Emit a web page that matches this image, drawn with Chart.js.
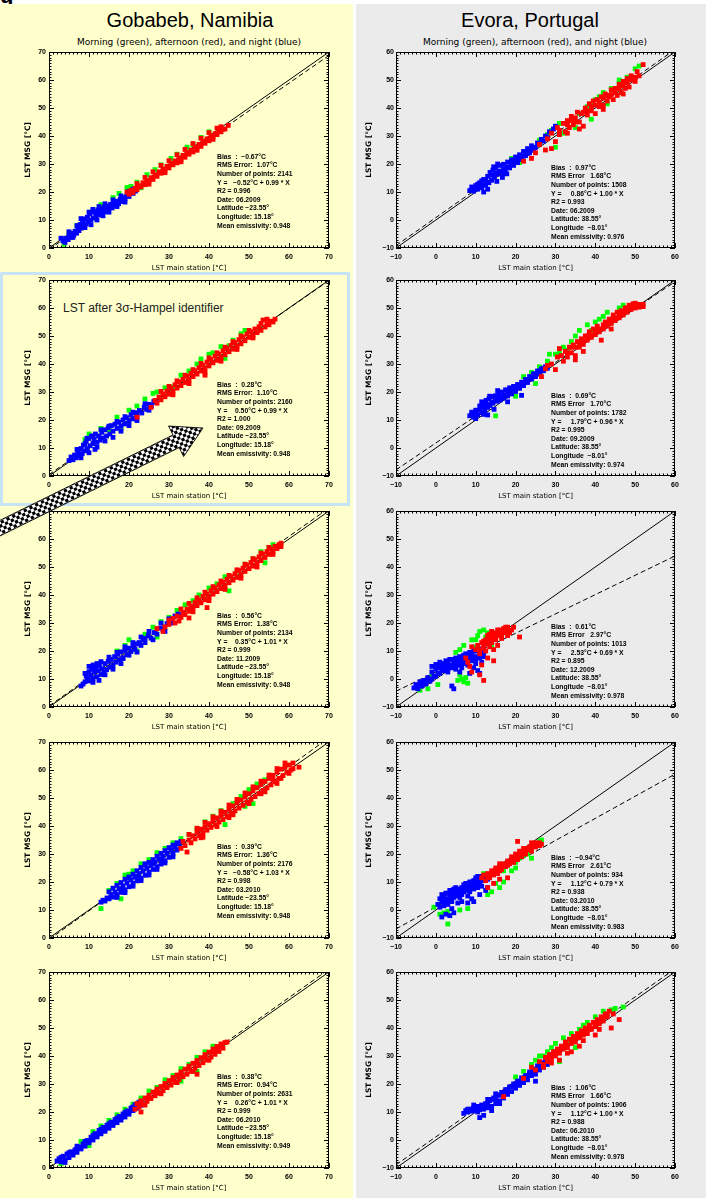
<!DOCTYPE html>
<html>
<head>
<meta charset="utf-8">
<script src="https://cdn.jsdelivr.net/npm/chart.js@4.4.1/dist/chart.umd.min.js"></script>
<style>
html, body { margin: 0; padding: 0; width: 706px; height: 1198px; overflow: hidden; background: #fff;
  font-family: "Liberation Sans", Arial, sans-serif; }
#page { position: relative; width: 706px; height: 1198px; }
.col { position: absolute; top: 4px; bottom: 0; }
#colL { left: 0; width: 353px; background: #ffffcc; }
#colR { left: 356px; width: 350px; background: #ebebeb; }
.site { position: absolute; top: 9px; width: 300px; text-align: center; font-size: 20px; color: #000; }
.sub { position: absolute; top: 37px; width: 300px; text-align: center; font-size: 9px; color: #000;
  font-family: "DejaVu Sans", sans-serif; }
#frame { position: absolute; left: 0; top: 272px; width: 344px; height: 228px; border: 3px solid #c6e4f6; }
#hampel { position: absolute; left: 63px; top: 301px; font-size: 12px; color: #222; white-space: nowrap; }
#frag { position: absolute; left: 0; top: -17px; font-size: 22px; font-weight: bold; color: #000; }
canvas.panel { position: absolute; }
#arrow { position: absolute; left: 0; top: 0; }
</style>
</head>
<body>
<div id="page">
  <div id="frag">g</div>
  <div class="col" id="colL"></div>
  <div class="col" id="colR"></div>
  <div id="frame"></div>
  <div class="site" style="left:40px">Gobabeb, Namibia</div>
  <div class="site" style="left:380px">Evora, Portugal</div>
  <div class="sub" style="left:39px">Morning (green), afternoon (red), and night (blue)</div>
  <div class="sub" style="left:385px">Morning (green), afternoon (red), and night (blue)</div>
  <div id="hampel">LST after 3σ-Hampel identifier</div>
  <canvas id="arrow" width="706" height="1198"></canvas>
</div>
<script>
// ---- axis ranges ----
const gobRange = [0, 70];
const evoRange = [-10, 60];

// ---- Gobabeb statistics (06.2009, 09.2009, 11.2009, 03.2010, 06.2010) ----
const gobDates = ['06.2009', '09.2009', '11.2009', '03.2010', '06.2010'];
const gobBias = ['−0.67', '0.28', '0.56', '0.39', '0.38'];
const gobRms = ['1.07', '1.10', '1.38', '1.36', '0.94'];
const gobCount = [2141, 2160, 2134, 2176, 2631];
const gobIntercept = [-0.52, 0.50, 0.35, -0.58, 0.26];
const gobSlope = [0.99, 0.99, 1.01, 1.03, 1.01];
const gobR2 = ['0.996', '1.000', '0.999', '0.998', '0.999'];
const gobEmis = ['0.948', '0.948', '0.948', '0.948', '0.949'];

// ---- Evora statistics (06.2009, 09.2009, 12.2009, 03.2010, 06.2010) ----
const evoDates = ['06.2009', '09.2009', '12.2009', '03.2010', '06.2010'];
const evoBias = ['0.97', '0.69', '0.61', '−0.94', '1.06'];
const evoRms = ['1.68', '1.70', '2.97', '2.61', '1.66'];
const evoCount = [1508, 1782, 1013, 934, 1906];
const evoIntercept = [0.86, 1.79, 2.53, 1.12, 1.12];
const evoSlope = [1.00, 0.96, 0.69, 0.79, 1.00];
const evoR2 = ['0.993', '0.995', '0.895', '0.938', '0.988'];
const evoEmis = ['0.976', '0.974', '0.978', '0.983', '0.978'];

// ---- scatter samples [station LST, MSG LST] ----
const gob0609Blue = [[3.5,2.5],[4,2],[4.2,3.5],[4.8,3],[5,4.5],[5.5,3.8],[5.8,5.2],[6.2,4.6],[6.5,6],[6.9,5.3],[7.2,7],[7.5,6.2],[7.8,8.4],[8.1,7.1],[8.4,9.5],[8.7,8],[9,10.4],[9.3,8.6],[9.6,11],[9.9,9.3],[10.2,12.1],[10.5,10],[10.8,12.8],[11.1,10.7],[11.4,13],[11.7,11.4],[12,12.5],[12.3,13.6],[12.6,11.8],[12.9,14],[13.2,12.4],[13.5,13.4],[13.8,14.6],[14.1,12.9],[14.4,15],[14.7,13.5],[15,14.4],[15.4,15.6],[15.8,14.3],[16.2,16],[16.6,15.2],[17,16.7],[17.4,15.8],[17.8,17.3],[18.2,16.6],[18.6,18],[19,17.5],[19.5,18.9],[20,18.4],[20.5,19.8],[21,19.5],[21.6,20.3],
  [8,10.5],[9,7.3],[10,12.8],[10.5,8.3],[11,13.8],[12,10],[12.5,14.8],[13.5,11.5],[14,15.8],[15,12.8],[16,17.2],[17,14.8],[18,18.6],[19,16.4],[20,20.2],[5,5.8],[6,3.8],[7,8],[3,3.5],[21,21]];
const gob0609Red = [[19.5,20],[20,19.2],[20.5,20.6],[21,19.8],[21.5,21.3],[22,20.8],[22.5,22.2],[23,21.8],[23.5,23.3],[24,22.6],[24.5,24],[25,23.9],[25.5,25.1],[26,24.5],[26.5,26],[27,25.6],[27.5,27.2],[28,26.7],[28.5,28.1],[29,27.6],[29.5,29.2],[30,28.6],[30.5,30.2],[31,29.7],[31.5,31.1],[32,30.4],[32.5,32],[33,31.6],[33.5,33.1],[34,32.4],[34.5,34],[35,33.5],[35.5,35],[36,34.3],[36.5,36],[37,35.6],[37.5,37],[38,36.3],[38.5,38],[39,37.4],[39.5,39],[40,38.3],[40.5,40],[41,39.6],[41.5,40.8],[42,40.5],[42.5,41.7],[43,41.5],[43.5,42.4],[44,42.5],[44.8,43.8],
  [22,23],[24,25.2],[26,27.2],[28,29.5],[30,31.2],[32,33.3],[34,35.2],[36,37.3],[38,39.2],[40,41.2],[42,42.8],[25,22.8],[29,26.9],[33,30.8],[37,34.9],[41,38.8],[43,43.3]];
const gob0609Green = [[3.8,1.3],[5,5.5],[7,8],[8.5,9],[11,13.6],[13,15.5],[16,18],[17.5,19.5],[19.5,21.6],[20.5,22],[22,23.5],[24.5,26.2],[26.5,28],[28,29.7],[30.5,32],[32,33.5],[34.5,36],[36,37],[38,39.5],[40,41.5],[23,21.5]];

const gob0909Blue = [[5,5.5],[5.5,6.8],[6,5.8],[6.4,7.5],[6.8,6.5],[7.2,8.6],[7.6,7.3],[8,9.8],[8.3,8],[8.6,11],[9,9],[9.3,12.3],[9.6,9.8],[10,13.4],[10.3,10.8],[10.6,14.2],[11,11.6],[11.3,13],[11.6,15],[12,12],[12.4,14.3],[12.8,12.8],[13.2,15.6],[13.6,13.6],[14,16.5],[14.4,14.3],[14.8,17.2],[15.2,15],[15.6,18],[16,16],[16.5,18.5],[17,17],[17.5,19.2],[18,17.8],[18.5,20],[19,18.6],[19.5,20.8],[20,19.5],[20.5,21.9],[21,20.4],[21.5,22.6],[22,21.5],[22.6,23.4],[23.2,22.5],[23.8,24.6],[24.4,23.8],[25,25.6],[25.6,25],[26.2,26.6],[26.8,26.3],
  [7,9.5],[8,6.5],[9,11.5],[10,8.3],[11,14.3],[12,10.3],[13,16.5],[14,12.5],[15,17.8],[16,13.8],[17,19.5],[18,16],[19,21.2],[20,18],[21,22.8],[22,19.8],[24,25.8],[25,23.5],[9.5,13.5],[11.5,9.5]];
const gob0909Red = [[25.5,24.5],[26.5,27],[27,26],[27.5,28.2],[28,27.2],[28.5,29.3],[29,28.3],[29.5,30.3],[30,29.2],[30.5,31.4],[31,30.3],[31.5,32.6],[32,31.4],[32.5,33.6],[33,32.3],[33.5,34.5],[34,33.4],[34.5,35.6],[35,34.3],[35.5,36.6],[36,35.5],[36.5,37.6],[37,36.4],[37.5,38.7],[38,37.5],[38.5,39.6],[39,38.5],[39.5,40.7],[40,39.3],[40.5,41.6],[41,40.4],[41.5,42.8],[42,41.3],[42.5,43.5],[43,42.3],[43.5,44.7],[44,43.3],[44.5,45.5],[45,44.4],[45.5,46.6],[46,45.3],[46.5,47.6],[47,46.3],[47.5,48.7],[48,47.2],[48.5,49.6],[49,48.3],[49.5,50.7],[50,49.5],[50.5,51.5],[51,50.3],[51.5,52.5],[52,51.2],[52.5,53.3],[53,52],[53.5,55.7],[54,53.2],[54.5,54.4],[55,54],[55.5,55.3],[56,55],[56.5,56],[22,21],[39,36],
  [28,30.2],[30,32],[32,34],[34,36],[36,38],[38,40.2],[40,42.2],[42,44],[44,46],[46,48],[48,50],[50,52],[31,29],[35,33],[39,37],[43,41],[47,45.2],[51,49.3],[54.5,56],[53,54.5]];
const gob0909Green = [[9,13],[10,15],[13,17],[15,16.5],[17,21],[18,16.8],[20,23.5],[22,25],[24,27.5],[26,29.5],[27,30],[29,31.5],[31,31.8],[33,36],[35,37.5],[37,40],[38,41.8],[40,43.5],[41,44],[43,46.2],[44,42],[46,48.5],[48,50.8],[45,46.5],[49,52]];

const gob1109Blue = [[8,7.5],[8.5,8.2],[9,9],[9.3,11],[9.6,10],[10,12.6],[10,9.3],[10.4,11.3],[10.7,13.5],[11,10.2],[11.3,12.4],[11.6,14],[12,10.8],[12.3,13],[12.6,14.8],[13,11.6],[13.3,13.7],[13.7,12.3],[14,15.5],[14.4,13.3],[14.8,16.3],[15.2,14.2],[15.6,17],[16,15],[16.4,18],[16.8,16],[17.2,18.8],[17.6,16.8],[18,19.7],[18.5,17.6],[19,20.3],[19.5,18.7],[20,21],[20.5,19.8],[21,21.9],[21.5,20.6],[22,19.6],[22.5,23],[23,22],[23.5,24],[24,23],[24.8,25.5],[25.5,24.6],[26.3,26.6],[27,26],[27.8,28.2],[28.5,27.6],[29.5,29.8],[30.5,30],[31.5,32.5],[32.3,33.2],[18.5,17.3],[24,24.5],
  [9,12],[10,14.5],[11,8.8],[11,15],[12,15.5],[12.5,9.5],[13,16.2],[14,11.5],[15,17.8],[16,13.5],[17,19.5],[18,15.5],[19,21.5],[20,18.5],[21,23],[22,22.5],[23,25],[25,27],[28,30],[30,31.5],[29,27],[26,24]];
const gob1109Red = [[27,28],[28.5,27],[29,28.6],[30,29.5],[31,31.6],[31.5,30],[32,32.5],[33,32],[33.5,33.8],[34,33],[34.5,35],[35,34.2],[35.5,36],[36,35.3],[36.5,37.3],[37,36.2],[37.5,38.2],[38,37.2],[38.5,39.5],[39,38.3],[39.5,40.4],[40,39.2],[40.5,41.5],[41,40.3],[41.5,42.5],[42,41.2],[42.5,43.6],[43,42.3],[43.5,44.5],[44,43.3],[44.5,45.6],[45,44.4],[45.5,46.6],[46,45.3],[46.5,47.6],[47,46.3],[47.5,48.7],[48,47.3],[48.5,49.6],[49,48.4],[49.5,50.7],[50,49.4],[50.5,51.6],[51,50.3],[51.5,52.6],[52,51.3],[52.5,53.6],[53,52.3],[53.5,54.6],[54,53.4],[54.5,55.5],[55,54.5],[55.5,56.4],[56,55.5],[56.5,57.4],[57,56.6],[57.5,58],[58,57.3],[32.5,30.7],[35,31.8],[39.5,35.5],
  [33,35],[35,37],[37,39],[39,41],[41,43],[43,45],[45,47],[47,49],[49,51],[51,53],[53,55],[55,57],[36,34],[40,38],[44,42],[48,46],[52,50],[56,54.5],[30,31],[58,58.5]];
const gob1109Green = [[17,20],[19,22],[20,24],[22,20],[24,26],[26,28.5],[27,25],[28,30.5],[30,32],[32,34.5],[34,36.5],[36,38],[37.5,40],[40,42.5],[42,44],[44,46.5],[45,41.5],[47,48.5],[49,51],[51,53],[53,55.5],[54,51.5],[55,57],[56,58],[12,15.5]];

const gob0310Blue = [[13,12.8],[13.5,13.5],[14,13.2],[14.5,14.3],[15,14],[15.5,15.5],[16,14.6],[16.5,16.4],[17,15.5],[17.5,17.6],[18,16.3],[18.5,18.6],[19,17.2],[19.5,19.7],[20,18.3],[20.5,20.8],[21,19.5],[21.5,21.8],[22,20.4],[22.5,23],[23,21.3],[23.5,24],[24,22.4],[24.5,25],[25,23.5],[25.5,26],[26,24.5],[26.5,27.2],[27,25.5],[27.5,28.3],[28,26.4],[28.5,29.2],[29,27.6],[29.5,30.3],[30,28.8],[30.5,31.5],[31,30.2],[31.5,32.5],[32,31.4],[32.5,33.6],[33,34.5],[24,26.5],[26,28],[18,17.5],[20,21.5],[22,22],[28,27.5],
  [15,16.5],[16,17.8],[17,18.8],[18,19.8],[19,21],[20,21.8],[21,22.8],[22,24],[23,25.2],[24,26],[25,27],[26,26.5],[27,29.2],[28,30.2],[29,31.2],[30,32.3],[31,33.2],[32,34],[17,14.5],[19,16.2],[21,18.5],[23,20.5],[25,22.5],[27,24.5],[29,26.8],[31,29]];
const gob0310Red = [[33,32],[33.5,34.5],[34,33],[34.5,30.7],[35,35],[35.5,34],[36,36.5],[36.5,35.4],[37,37.8],[37.5,36.6],[38,38.9],[38.5,37.6],[39,39.7],[39.5,38.5],[40,40.8],[40.5,39.5],[41,41.7],[41.5,40.4],[42,42.9],[42.5,41.4],[43,43.8],[43.5,42.3],[44,44.9],[44.5,43.4],[45,46],[45.5,44.5],[46,47.2],[46.5,45.4],[47,48.2],[47.5,46.4],[48,49.3],[48.5,47.4],[49,50.4],[49.5,48.5],[50,51.5],[50.5,49.5],[51,52.6],[51.5,50.5],[52,53.7],[52.5,51.6],[53,54.8],[53.5,52.7],[54,55.9],[54.5,53.6],[55,57],[55.5,54.7],[56,58.1],[56.5,55.8],[57,59.2],[57.5,57],[58,60.3],[58.5,58],[59,61],[59.5,59.2],[60,61.8],[60.5,60],[61,62.5],[62.5,61],[45,43],[53,51.5],[38.5,36],[57,55.2],
  [35,37],[37,39.2],[39,41.3],[41,43.3],[43,45.3],[45,47.5],[47,49.5],[49,51.8],[51,54],[53,56],[55,58.2],[57,60.5],[59,62.5],[38,35.8],[42,39.8],[46,44],[50,48],[54,52.2],[58,57],[60,58.8],[56,56.5],[61,60.5]];
const gob0310Green = [[13,10.5],[15,17],[17,19.5],[19,22.5],[21,24],[23,26.5],[25,28],[27,30.5],[29,32],[31,34],[33,35.5],[35,37],[37,39],[39,41.5],[41,43.5],[43,45.5],[44,40.5],[46,48],[48,50.5],[50,53],[51,48],[52,55],[54,56.5],[49,47],[20,22.8],[18,14]];

const gob0610Blue = [[2,2.5],[2.5,3.3],[3,2.2],[3.5,4.2],[4,3],[4.5,5],[5,3.7],[5.5,5.8],[6,4.6],[6.5,6.5],[7,5.6],[7.5,7.5],[8,6.8],[8.5,8.6],[9,7.8],[9.5,9.8],[10,9],[10.5,11],[11,10],[11.5,12.3],[12,11.1],[12.5,13.4],[13,12.2],[13.5,14.5],[14,13.1],[14.5,15.3],[15,14.2],[15.5,16.4],[16,15.2],[16.5,17.3],[17,16.2],[17.5,18.4],[18,17.1],[18.5,19.3],[19,18.2],[19.5,20.4],[20,19.2],[20.5,21.4],[21,20.5],[21.5,22.6],[22,21.4],[22.5,23.5],[23,22.4],[4,2],[7,7],
  [3,3.8],[5,5.5],[7,7.8],[9,9.5],[11,11.6],[13,13.8],[15,15.8],[17,17.8],[19,19.8],[21,21.8],[6,5.5],[8,7.5],[10,9.7],[12,11.8],[14,13.8],[16,16],[18,18],[20,20]];
const gob0610Red = [[21.5,21],[22,23],[22.5,21.8],[23,24],[23.5,22.6],[24,25],[24.5,23.8],[25,26],[25.5,24.8],[26,27.1],[26.5,25.8],[27,28.2],[27.5,26.7],[28,29.1],[28.5,27.6],[29,30.2],[29.5,28.7],[30,31.2],[30.5,29.6],[31,32.3],[31.5,30.6],[32,33.2],[32.5,31.6],[33,34.3],[33.5,32.6],[34,35.3],[34.5,33.5],[35,36.4],[35.5,34.5],[36,37.4],[36.5,35.6],[37,38.4],[37.5,36.6],[38,39.4],[38.5,37.6],[39,40.5],[39.5,38.6],[40,41.4],[40.5,39.6],[41,42.5],[41.5,40.6],[42,43.4],[42.5,41.6],[43,44.3],[43.5,42.8],[44,44.8],[44.5,45],[23,20],[37,33.5],
  [23,23.5],[25,25.3],[27,27.5],[29,29.5],[31,31.5],[33,33.6],[35,35.6],[37,37.6],[39,39.6],[41,41.5],[43,43.5],[24,22.5],[28,26.5],[32,30.5],[36,34.5],[40,38.5],[42,42]];
const gob0610Green = [[3,1.5],[6,5],[8,9.5],[11,13],[13,15],[15,17],[17,19],[19,21],[21,22.8],[23,25],[25,27.5],[27,28.8],[29,31.5],[31,33],[33,35.5],[35,37],[37,39.5],[39,41.5],[41,43.5],[33,31],[37,34.5],[10,8]];

const evo0609Blue = [[8.5,10.5],[9,11.8],[9.5,10.3],[10,12.3],[10.5,11],[11,13.3],[11.5,11.5],[12,14.5],[12,10],[12.5,12.4],[13,15.6],[13.3,13.3],[13.6,17],[14,14.2],[14.3,17.8],[14.7,15.3],[15,18.5],[15.3,13.8],[15.6,16.4],[16,19.5],[16.3,17.2],[16.7,15.2],[17,19.9],[17.4,17.8],[17.8,16.5],[18,20.7],[18.5,18.6],[19,21.5],[19.5,19.5],[20,22.5],[20.5,20.5],[21,23.3],[21.5,21.7],[22,24.5],[22.5,23],[23,25.5],[23.5,24],[24,26.5],[24.5,25.3],[25.5,27.5],[26.5,28.8],[27.5,30],[28.5,31.5],[29.5,32.5],[30,33.5],[13,11],[17,16.5],
  [9,10.8],[10,11.3],[11,12],[12,12.5],[13,13.5],[14,16],[15,16.8],[16,17.5],[17,18.3],[18,19],[19,20],[20,21],[21,21.7],[22,22.8],[23,23.8],[24,25],[25,26],[26,27.2],[27,28.2],[28,29.5],[10.5,12.8],[11.5,14],[12.5,14.2],[14.5,19],[15.5,20]];
const evo0609Red = [[22,21],[24,22],[25,24],[26,27],[27.5,25],[28,29],[29,31],[30,28],[30.5,33],[31,30.5],[32,34.5],[32.5,31.5],[33,35.5],[33.5,33],[34,37],[34.5,34],[35,36.5],[35.5,38.5],[36,35],[36.5,38],[37,33.5],[37.5,40],[38,37.5],[38.5,41.5],[39,39],[39.5,42.5],[40,38],[40.5,43],[41,40.5],[41.5,44],[42,41],[42.5,45],[43,42.5],[43.5,44],[44,46.5],[44.5,43],[45,47],[45.5,44.5],[46,48.5],[46.5,45.5],[47,49.5],[47.5,47],[48,50.5],[48.5,47.5],[49,51.5],[50,49.5],[50.5,53],[51,51.5],[52,55.5],[47,45],[42,39.5],[29,25.5],[33,31],[36,32.5],
  [31,32],[33,34],[35,35],[37,38.5],[39,40.5],[41,42],[43,44.5],[45,45.5],[47,48],[49,50],[34,35.5],[38,39],[42,43.5],[46,47],[48,49],[50,51],[44,44.8],[40,41]];
const evo0609Green = [[19,22],[21,20.5],[23,24.5],[26,28.5],[28,30.5],[29,32],[30,26],[31,34.5],[32,31],[34,36],[35,33],[36,38],[38,40.5],[39,36],[40,43],[41,44],[42,45.5],[43,41.5],[44,47],[46,49],[48,51],[50,54],[51,55],[46,50],[39,41.5]];

const evo0909Blue = [[8.5,11.5],[9,12.8],[9.5,11],[10,13.5],[10.5,11.8],[11,15],[11.5,12.6],[12,16],[12.3,13.4],[12.6,17],[13,14.5],[13.3,17.6],[13.6,15.2],[14,18.4],[14.3,16],[14.6,13.8],[15,18.7],[15.4,16.7],[15.8,19.4],[16.2,17.2],[16.6,20],[17,17.8],[17.5,20.8],[18,18.6],[18.5,21.5],[19,19.3],[19.5,22],[20,20.2],[20.5,22.7],[21,21.3],[21.5,23.5],[22,22.3],[22.5,24.5],[23,23.4],[23.5,25.5],[24,24.6],[24.5,26.5],[25,25.5],[25.5,27.5],[26,26.6],[26.5,28.3],[27,27.6],[27.5,29],[28,28.5],[10,10.5],[13,11.8],[18,16.5],[21.5,18.8],
  [9,12],[10,12.5],[11,13.5],[12,14.5],[13,15.5],[14,16.5],[15,17.3],[16,18],[17,19],[18,20],[19,20.5],[20,21.5],[21,22.3],[22,23.2],[23,24.3],[24,25.2],[25,26.5],[26,27.5],[27,28.5],[11.5,16.5],[13.5,18.5],[15.5,20.5],[12,12]];
const evo0909Red = [[26.5,25.5],[27.5,28.3],[28,29.5],[29,30],[30,28],[30.5,32.5],[31,35.5],[31.5,33],[32,31],[32.5,34.5],[33,32.5],[33.5,36],[34,34],[34.5,36.8],[35,33],[35.5,38],[36,36],[36.5,39],[37,37],[37.5,40],[38,38.5],[38.5,41.5],[39,39.5],[39.5,42.5],[40,40.5],[40.5,43.5],[41,41.5],[41.5,38.5],[42,42.5],[42.5,45],[43,43.5],[43.5,46],[44,44.5],[44.5,47.5],[45,45.5],[45.5,48.5],[46,46.5],[46.5,49],[47,47.5],[47.5,50],[48,48.5],[48.5,51],[49,49.5],[49.5,51.5],[50,50],[50.5,51],[51,50.3],[52,50.5],[44,42.5],[37,34.5],[35,31.5],
  [33,34],[35,36],[37,38.3],[39,40.5],[41,42.5],[43,44.5],[45,46.5],[47,48.5],[49,50.5],[51,51.3],[34,36],[36,37.5],[38,40],[40,42],[42,44],[44,46],[46,48],[48,50],[50,51.7],[52,51.3]];
const evo0909Green = [[15,11.5],[20,18.5],[22,25.5],[24,27],[25,23],[26,29],[28,31],[28.5,33.5],[30,33.5],[31,34],[32,36],[33,35],[34,38],[35,40],[36,42],[38,44],[39,42],[40,45],[42,47],[43,48.5],[44,45],[46,50],[47,51],[41,46]];

const evo1209Blue = [[-5.5,-3.2],[-5,-2],[-4.5,-3.5],[-4,-1],[-3.5,-2.5],[-3,-0.5],[-2.5,-1.8],[-2,0.5],[-1.5,-0.8],[-1,2.5],[-1,4.5],[-0.5,1],[0,3.5],[0,5.2],[0.5,2],[1,4.5],[1,6],[1.5,3],[2,5.5],[2.5,3.8],[2.5,6.5],[3,4.8],[3.5,7],[4,5],[4,-2.5],[4.5,6.5],[4.5,-3.5],[5,3.5],[5,7.5],[5.5,5],[6,8],[6,6],[6.5,4],[7,8.5],[7,6.5],[7.5,9],[8,7],[8,5],[8.5,9.5],[9,7.5],[9.5,10],[9.5,4],[10,8],[10,5.5],[10.5,10.5],[10.5,3],[11,9],[11,2],[11.5,10.8],[11.5,6],[12,8],[3,2.5],[6,2.5],[8.5,2],
  [-5,-3],[-4,-2.5],[-3,-1.5],[-2,-0.5],[-1,0],[0,1],[1,2],[2,3],[3,3.5],[4,4],[5,5],[6,5],[7,5.5],[8,6],[9,6.5],[10,7],[11,7.5],[12,9.5],[0.5,4],[1.5,5],[2,4],[3,6],[4,7],[5,6],[6,7],[7,7.5],[8,8],[9,9],[10,10],[11,10]];
const evo1209Red = [[7.5,7.5],[8,6],[8.5,4.5],[9,11.5],[9,2.5],[10,10.5],[10.5,12],[11,9],[11,1.5],[11.5,13],[11.5,5],[12,11],[12.5,14],[12.5,10],[13,12.5],[13,15.5],[13.5,11.5],[13.5,14.5],[14,13],[14,17],[14.5,15.5],[14.5,10.5],[15,14],[15,16.5],[15.5,12],[16,15.5],[16,17.5],[16.5,14.5],[17,16.5],[17,18],[17.5,17],[18,15.5],[18,17.8],[18.5,16.5],[19,17.5],[19.5,18.5],[21,15],[13,7.5],[12,-0.5],[14.5,6.5],
  [13,13.5],[14,14.5],[15,15],[16,16.5],[17,17.5],[18,18.5],[12,12],[14,15.8],[15.5,17.5],[16.5,16],[13.5,16],[17.5,18.5],[12,13.5],[11,10.5]];
const evo1209Green = [[-4,-4],[-2,-3.5],[0.5,-2],[5.5,-0.5],[6,1.5],[6.5,0],[7,-1],[7.5,0.5],[8,-1.5],[5,9.5],[6,10.5],[7,12],[9,14],[10,14],[10.5,15.5],[11,17],[12,17.5],[13,16.5],[12.5,15],[14,12],[7,7],[3,5.5],[-1,1],[10,11.5]];

const evo0310Blue = [[0.5,2],[1,1],[1,4],[1.5,3],[1.5,5.5],[2,1.5],[2,5],[2.5,3],[2.5,6],[3,4],[3,2],[3.5,5.5],[3.5,7],[4,3],[4,6],[4.5,7.5],[4.5,4.5],[5,6],[5,8],[5.5,2.5],[5.5,6.5],[6,7.5],[6,4.5],[6.5,8],[6.5,5.5],[7,9],[7,6.5],[7.5,7.5],[7.5,9.5],[8,8.5],[8,5],[8.5,10],[8.5,6.5],[9,9],[9,4],[9.5,10.5],[9.5,7.5],[10,9.5],[10,11.5],[10.5,8],[10.5,12],[11,10],[11,5.5],[11.5,12],[11.5,8.5],[12,10.5],[12.5,7],[13,11],[13,8],[1.5,-2.5],[2.5,-1.5],[3.5,-2],[4.5,-1],[6.5,3],[8,2.5],[9.5,3],[4,0.5],
  [2,2.5],[3,3],[4,4.5],[5,5],[6,6],[7,7.5],[8,7],[9,8],[10,10.5],[11,11],[12,11.5],[12.5,12],[3,6],[5,7],[7,8],[9,10],[11,9],[2,4],[6,6.5],[8,9],[10,8.5]];
const evo0310Red = [[11.5,11.5],[12,12.5],[12.5,10.5],[13,13],[13.5,11.5],[14,14],[14.5,12.5],[15,15],[15.5,13],[16,15.5],[16.5,14.5],[17,16.5],[17.5,15.5],[18,17.5],[18.5,16.5],[19,18],[19.5,17],[20,19],[20.5,24.5],[20.5,18],[21,20],[21.5,19],[22,21],[22.5,20],[23,21.5],[23.5,22.5],[24,21],[24.5,23],[25,22.5],[25,24],[25.5,23.5],[26,24],[26.5,23.5],[18,11.5],[16,11],[14.5,9.5],[13,8],
  [13,12],[14,13],[15,14],[16,14],[17,15.5],[18,16],[19,17.5],[20,18],[21,19.5],[22,20],[23,22],[24,22.5],[25,23],[26,23],[16,16.5],[20,20],[22,22],[24,24],[19,19],[21,21]];
const evo0310Green = [[-0.5,1],[1,-1.5],[2,-1],[3,-5],[6,0],[8,0.5],[12,13],[13,5.5],[14,6.5],[15,9.5],[16,8],[17,10],[18,16],[19,14],[20,15],[21,18.5],[22,19.5],[23,20],[24,18.5],[26,24.5],[26.5,25],[17,14],[3,-0.5],[20,17]];

const evo0610Blue = [[7,9.5],[7.5,10.5],[8,10],[8.5,11],[9,10.3],[9.5,11.5],[10,10.5],[10.5,12],[11,10.8],[11,8],[11.5,12.5],[12,11],[12,8.8],[12.5,13],[13,11.5],[13.5,14],[14,12],[14.5,15],[15,13],[15.5,16],[16,14],[16.5,17],[17,15],[17.5,18],[18,16.3],[18.5,19],[19,17.3],[19.5,20],[20,18.5],[20.5,21],[21,19.5],[21.5,22.2],[22,20.5],[22.5,23],[23,21.5],[23.5,24.3],[24,23],[24.5,25.3],[25,23.5],[25.5,26.5],[26,25],[26.5,27.5],[27,26],[27.5,29],[28,27],[29,30.5],[30,31.5],[25,21],[14,10.5],[16,13],
  [8,11],[9,11],[10,11.5],[11,12],[12,12.2],[13,13],[14,14.5],[15,14.5],[16,16],[17,17],[18,18],[19,19],[20,20],[21,21],[22,22],[23,23],[24,24],[25,25],[26,26],[27,27.5],[28,29],[9.5,12.5],[10.5,10],[13,14.5],[15,16.5]];
const evo0610Red = [[17,15.5],[22,22],[24,26],[25,25],[26,28],[27,27],[27.5,29.5],[28,28],[28.5,30.5],[29,29],[29.5,31.5],[30,30],[30.5,32.5],[31,31],[31.5,33.5],[32,32.5],[32.5,35],[33,33],[33.5,36],[34,34.5],[34.5,37],[35,35],[35.5,38],[36,36.5],[36.5,39],[37,37.5],[37.5,40],[38,38],[38.5,41],[39,39.5],[39.5,42],[40,40.5],[40.5,43],[41,41.5],[41.5,44],[42,42.5],[42.5,45],[43,44],[43.5,46],[44,40],[44.5,45],[46,43],[31,28.5],[36,33.5],[40,37.5],[34,31.5],
  [27,26],[28,29],[29,30],[30,31],[31,32],[32,33.5],[33,34],[34,35.5],[35,36.5],[36,37.5],[37,38.5],[38,39.5],[39,40],[40,41.5],[41,42.5],[42,43.5],[43,45],[33,31],[37,35.5],[41,39.5],[29,27.5]];
const evo0610Green = [[20,22.5],[22,24.5],[24,27],[25,28.5],[26,30],[28,31.5],[29,33],[30,34.5],[32,36.5],[33,35],[34,38],[35,33],[36,39.5],[37,41],[38,42],[40,44],[42,46],[44,46.5],[45,47],[47,47.5],[31,28],[27,30]];

// per-row sample sets: [green, red, blue]
const gobSamples = [
  [gob0609Green, gob0609Red, gob0609Blue],
  [gob0909Green, gob0909Red, gob0909Blue],
  [gob1109Green, gob1109Red, gob1109Blue],
  [gob0310Green, gob0310Red, gob0310Blue],
  [gob0610Green, gob0610Red, gob0610Blue]
];
const evoSamples = [
  [evo0609Green, evo0609Red, evo0609Blue],
  [evo0909Green, evo0909Red, evo0909Blue],
  [evo1209Green, evo1209Red, evo1209Blue],
  [evo0310Green, evo0310Red, evo0310Blue],
  [evo0610Green, evo0610Red, evo0610Blue]
];

// ---- layout ----
const plotTops = [52, 280, 511, 742, 972];
const PLOT_H = 196;
const PAD_TOP = 10;
const AXIS_H = 32;
const FONT = '"Liberation Sans", Arial, sans-serif';
const IDL_FONT = '"DejaVu Sans", sans-serif';

const toXY = pts => pts.map(([x, y]) => ({ x, y }));
const minus = v => String(v).replace('-', '−');
const signed = v => (v < 0 ? '−' : ' ') + Math.abs(v).toFixed(2);

function statLines(left, i) {
  if (left) {
    return [
      'Bias  :  ' + gobBias[i] + '°C',
      'RMS Error:  ' + gobRms[i] + '°C',
      'Number of points: ' + gobCount[i],
      'Y =   ' + signed(gobIntercept[i]) + '°C + ' + gobSlope[i].toFixed(2) + ' * X',
      'R2 = ' + gobR2[i],
      'Date: ' + gobDates[i],
      'Latitude −23.55°',
      'Longitude: 15.18°',
      'Mean emissivity: ' + gobEmis[i]
    ];
  }
  return [
    'Bias  :  ' + evoBias[i] + '°C',
    'RMS Error   ' + evoRms[i] + '°C',
    'Number of points: ' + evoCount[i],
    'Y =    ' + signed(evoIntercept[i]) + '°C + ' + evoSlope[i].toFixed(2) + ' * X',
    'R2 = ' + evoR2[i],
    'Date: ' + evoDates[i],
    'Latitude: 38.55°',
    'Longitude  −8.01°',
    'Mean emissivity: ' + evoEmis[i]
  ];
}

// box with IDL-style inward ticks on all four sides
const idlFrame = {
  id: 'idlFrame',
  afterDraw(chart) {
    const { ctx, chartArea: a, scales: { x, y } } = chart;
    ctx.save();
    ctx.strokeStyle = '#000';
    ctx.lineWidth = 1;
    ctx.strokeRect(a.left + 0.5, a.top + 0.5, a.width - 1, a.height - 1);
    ctx.beginPath();
    for (let v = x.min; v <= x.max; v++) {
      const px = Math.round(x.getPixelForValue(v)) + 0.5;
      const len = v % 10 === 0 ? 5 : 2.5;
      ctx.moveTo(px, a.bottom); ctx.lineTo(px, a.bottom - len);
      ctx.moveTo(px, a.top); ctx.lineTo(px, a.top + len);
    }
    for (let v = y.min; v <= y.max; v++) {
      const py = Math.round(y.getPixelForValue(v)) + 0.5;
      const len = v % 10 === 0 ? 5 : 2.5;
      ctx.moveTo(a.left, py); ctx.lineTo(a.left + len, py);
      ctx.moveTo(a.right, py); ctx.lineTo(a.right - len, py);
    }
    ctx.stroke();
    ctx.restore();
  }
};

// statistics block inside the plot
const statsBox = {
  id: 'statsBox',
  afterDraw(chart, args, opts) {
    const { ctx, chartArea: a } = chart;
    ctx.save();
    ctx.font = 'bold 6.8px ' + FONT;
    ctx.fillStyle = '#000';
    ctx.textBaseline = 'middle';
    opts.lines.forEach((t, k) => ctx.fillText(t, a.left + opts.dx, a.top + opts.dy + k * 8.6));
    ctx.restore();
  }
};

function buildPanel(left, row) {
  const [lo, hi] = left ? gobRange : evoRange;
  const [green, red, blue] = (left ? gobSamples : evoSamples)[row];
  const a = left ? gobIntercept[row] : evoIntercept[row];
  const b = left ? gobSlope[row] : evoSlope[row];

  const canvas = document.createElement('canvas');
  canvas.className = 'panel';
  const h = PAD_TOP + PLOT_H + AXIS_H;
  canvas.width = 353; canvas.height = h;
  canvas.style.width = '353px'; canvas.style.height = h + 'px';
  canvas.style.left = (left ? 0 : 353) + 'px';
  canvas.style.top = (plotTops[row] - PAD_TOP) + 'px';
  document.getElementById('page').insertBefore(canvas, document.getElementById('arrow'));

  const pt = { pointStyle: 'rect', pointRadius: 3.4, borderWidth: 0, pointHoverRadius: 3.4 };
  const tickFont = { family: FONT, size: 7, weight: 'bold' };
  const xTitleFont = { family: IDL_FONT, size: 7 };
  const yTitleFont = { family: IDL_FONT, size: 7.5, weight: 'bold' };

  new Chart(canvas, {
    type: 'scatter',
    data: {
      datasets: [
        { label: 'afternoon', data: toXY(red), backgroundColor: '#ff0000', order: 1, ...pt },
        { label: 'night', data: toXY(blue), backgroundColor: '#0000ff', order: 2, ...pt },
        { label: 'morning', data: toXY(green), backgroundColor: '#00ff00', order: 3, ...pt },
        { type: 'line', label: '1:1', data: [{ x: lo, y: lo }, { x: hi, y: hi }],
          borderColor: '#000', borderWidth: 1, pointRadius: 0, fill: false, order: 4 },
        { type: 'line', label: 'fit', data: [{ x: lo, y: a + b * lo }, { x: hi, y: a + b * hi }],
          borderColor: '#000', borderWidth: 1, borderDash: [5, 3], pointRadius: 0, fill: false, order: 5 }
      ]
    },
    options: {
      responsive: false,
      animation: false,
      devicePixelRatio: 1,
      layout: { padding: { top: PAD_TOP, right: left ? 24 : 31, left: 0, bottom: 0 } },
      plugins: {
        legend: { display: false },
        tooltip: { enabled: false },
        statsBox: { lines: statLines(left, row), dx: left ? 168 : 155, dy: left ? 105 : 116 }
      },
      scales: {
        x: {
          type: 'linear', min: lo, max: hi,
          grid: { display: false, drawTicks: false, tickLength: 0 },
          border: { display: false },
          ticks: { stepSize: 10, font: tickFont, color: '#000', padding: 5, maxRotation: 0, autoSkip: false, callback: minus },
          title: { display: true, text: 'LST main station [°C]', font: xTitleFont, color: '#000', padding: { top: 0, bottom: 8 } },
          afterFit(s) { s.height = AXIS_H; }
        },
        y: {
          type: 'linear', min: lo, max: hi,
          grid: { display: false, drawTicks: false, tickLength: 0 },
          border: { display: false },
          ticks: { stepSize: 10, font: tickFont, color: '#000', padding: left ? 3 : 2, autoSkip: false, callback: minus },
          title: { display: true, text: 'LST MSG [°C]', font: yTitleFont, color: '#000', padding: { top: left ? 24 : 12, bottom: 0 } },
          afterFit(s) { s.width = left ? 49 : 43; }
        }
      }
    },
    plugins: [idlFrame, statsBox]
  });
}

for (let r = 0; r < 5; r++) {
  buildPanel(true, r);
  buildPanel(false, r);
}

// checkered arrow pointing at the filtered panel
(function drawArrow() {
  const ctx = document.getElementById('arrow').getContext('2d');
  const tail = { x: -20, y: 538 }, tip = { x: 203, y: 428 };
  const ang = Math.atan2(tip.y - tail.y, tip.x - tail.x);
  const len = Math.hypot(tip.x - tail.x, tip.y - tail.y);
  const shaft = 14, headW = 34, headL = 30, s = 3.2;
  ctx.save();
  ctx.translate(tail.x, tail.y);
  ctx.rotate(ang);
  ctx.beginPath();
  ctx.moveTo(0, -shaft / 2);
  ctx.lineTo(len - headL, -shaft / 2);
  ctx.lineTo(len - headL, -headW / 2);
  ctx.lineTo(len, 0);
  ctx.lineTo(len - headL, headW / 2);
  ctx.lineTo(len - headL, shaft / 2);
  ctx.lineTo(0, shaft / 2);
  ctx.closePath();
  ctx.fillStyle = '#fff';
  ctx.fill();
  ctx.save();
  ctx.clip();
  ctx.fillStyle = '#000';
  for (let i = 0; i * s < len; i++) {
    for (let j = -6; j <= 6; j++) {
      if (((i + j) % 2 + 2) % 2 === 0) ctx.fillRect(i * s, j * s, s, s);
    }
  }
  ctx.restore();
  ctx.lineWidth = 0.8;
  ctx.strokeStyle = '#000';
  ctx.stroke();
  ctx.restore();
})();
</script>
</body>
</html>
